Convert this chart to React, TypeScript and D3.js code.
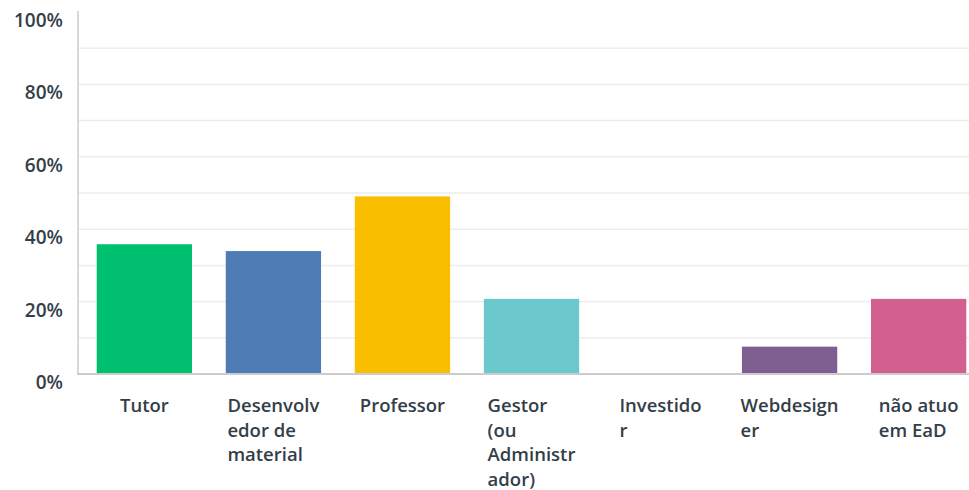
import React, { useRef, useEffect } from "react";
import * as d3 from "d3";

const categories = [
  "Tutor",
  "Desenvolvedor de material",
  "Professor",
  "Gestor (ou Administrador)",
  "Investidor",
  "Webdesigner",
  "não atuo em EaD",
];
// wrapped label lines as they appear under the bars
const labelLines = [
  ["Tutor"],
  ["Desenvolv", "edor de", "material"],
  ["Professor"],
  ["Gestor", "(ou", "Administr", "ador)"],
  ["Investido", "r"],
  ["Webdesign", "er"],
  ["não atuo", "em EaD"],
];
const values = [35.85, 33.96, 49.06, 20.75, 0, 7.55, 20.75];
const colors = ["#00bf6f", "#507cb6", "#f9be00", "#6bc8cd", "#ff8b4f", "#7f5f90", "#d25f90"];
const yTicks = [0, 20, 40, 60, 80, 100];

const App = () => {
  const svgRef = useRef<SVGSVGElement>(null);
  const width = 969;
  const height = 490;

  useEffect(() => {
    document.body.style.margin = "0";
    const svg = d3.select(svgRef.current);
    svg.selectAll("*").remove();

    const font = "'Open Sans', sans-serif";
    const textColor = "#333e48";

    const x = d3
      .scaleBand<number>()
      .domain(d3.range(categories.length))
      .range([78, 985])
      .paddingInner(0.2615)
      .paddingOuter(0.145);

    const y = d3.scaleLinear().domain([0, 100]).range([374, 12]);

    // gridlines every 10%
    svg
      .append("g")
      .selectAll("line")
      .data(d3.range(10, 100, 10))
      .join("line")
      .attr("x1", 78)
      .attr("x2", width)
      .attr("y1", (d) => y(d))
      .attr("y2", (d) => y(d))
      .attr("stroke", "#ededed")
      .attr("stroke-width", 1.5);

    // y tick labels
    svg
      .append("g")
      .selectAll("text")
      .data(yTicks)
      .join("text")
      .attr("x", 63)
      .attr("y", (d) => y(d) + 15)
      .attr("text-anchor", "end")
      .attr("font-family", font)
      .attr("font-size", 19)
      .attr("font-weight", 600)
      .attr("fill", textColor)
      .text((d) => `${d}%`);

    // bars
    svg
      .append("g")
      .selectAll("rect")
      .data(values)
      .join("rect")
      .attr("x", (d, i) => x(i)!)
      .attr("y", (d) => y(d))
      .attr("width", x.bandwidth())
      .attr("height", (d) => y(0) - y(d))
      .attr("fill", (d, i) => colors[i]);

    // axis lines
    svg
      .append("line")
      .attr("x1", 78)
      .attr("x2", 78)
      .attr("y1", 11)
      .attr("y2", 375)
      .attr("stroke", "#cccccc")
      .attr("stroke-width", 1.5);
    svg
      .append("line")
      .attr("x1", 77)
      .attr("x2", width)
      .attr("y1", 374)
      .attr("y2", 374)
      .attr("stroke", "#cccccc")
      .attr("stroke-width", 2);

    // category labels: left-aligned lines, block centred on the band
    labelLines.forEach((lines, i) => {
      const g = svg.append("g");
      const t = g
        .append("text")
        .attr("font-family", font)
        .attr("font-size", 18.5)
        .attr("font-weight", 600)
        .attr("fill", textColor);
      lines.forEach((line, j) => {
        t.append("tspan").attr("x", 0).attr("y", 412 + j * 24.5).text(line);
      });
      const w = (t.node() as SVGTextElement).getBBox().width;
      const cx = x(i)! + x.bandwidth() / 2;
      g.attr("transform", `translate(${cx - w / 2},0)`);
    });
  }, []);

  return (
    <div>
      <svg ref={svgRef} width={width} height={height} style={{ display: "block" }} />
    </div>
  );
};

export default App;
